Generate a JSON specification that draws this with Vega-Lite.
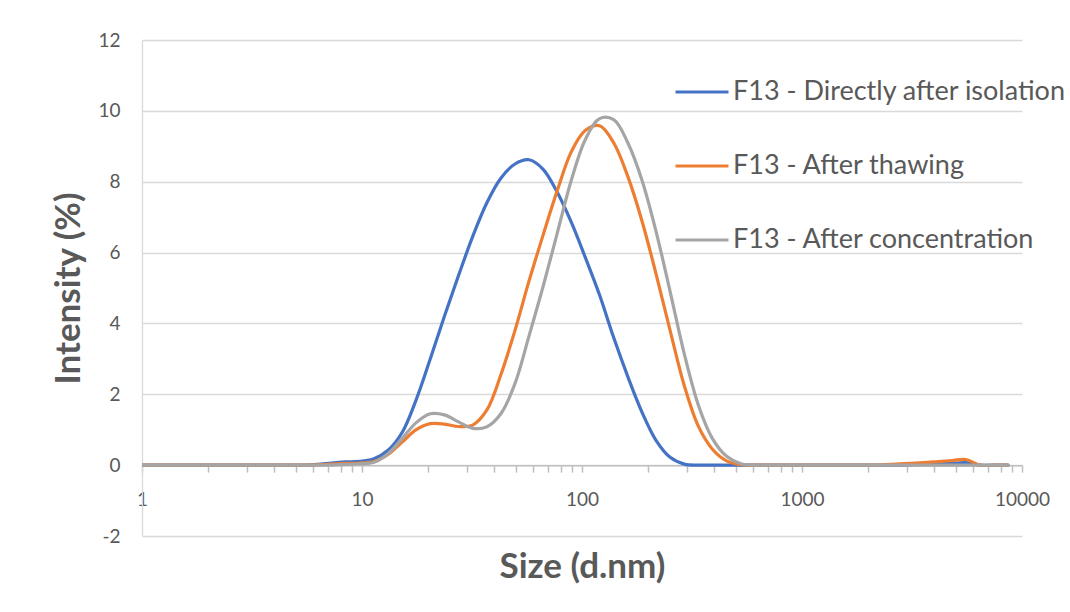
{
  "$schema": "https://vega.github.io/schema/vega-lite/v6.json",
  "width": 880,
  "height": 496,
  "autosize": {"type": "none"},
  "padding": {"left": 142, "top": 40, "right": 48, "bottom": 76},
  "background": "white",
  "config": {"view": {"stroke": null}, "font": "Lato"},
  "datasets": {
    "blue": [
      {"size": 0.9207, "intensity": 0}, {"size": 4.671, "intensity": 0}, {"size": 5.415, "intensity": 0},
      {"size": 6.275, "intensity": 0.02}, {"size": 7.274, "intensity": 0.06}, {"size": 8.433, "intensity": 0.09},
      {"size": 9.772, "intensity": 0.11}, {"size": 11.33, "intensity": 0.18}, {"size": 13.13, "intensity": 0.42},
      {"size": 15.22, "intensity": 0.92}, {"size": 17.64, "intensity": 1.85}, {"size": 20.44, "intensity": 3.0},
      {"size": 23.69, "intensity": 4.2}, {"size": 27.46, "intensity": 5.35}, {"size": 31.84, "intensity": 6.45},
      {"size": 36.9, "intensity": 7.4}, {"size": 42.77, "intensity": 8.1}, {"size": 49.57, "intensity": 8.5},
      {"size": 57.45, "intensity": 8.62}, {"size": 66.6, "intensity": 8.35}, {"size": 77.19, "intensity": 7.7},
      {"size": 89.48, "intensity": 6.85}, {"size": 103.7, "intensity": 5.85}, {"size": 120.2, "intensity": 4.8},
      {"size": 139.3, "intensity": 3.6}, {"size": 161.5, "intensity": 2.5}, {"size": 187.2, "intensity": 1.5},
      {"size": 217, "intensity": 0.7}, {"size": 251.5, "intensity": 0.22}, {"size": 291.5, "intensity": 0.03},
      {"size": 337.8, "intensity": 0}, {"size": 391.7, "intensity": 0}, {"size": 454.2, "intensity": 0},
      {"size": 526.7, "intensity": 0}, {"size": 610, "intensity": 0}, {"size": 706, "intensity": 0},
      {"size": 818.9, "intensity": 0}, {"size": 948.8, "intensity": 0}, {"size": 1100, "intensity": 0},
      {"size": 1275, "intensity": 0}, {"size": 1477, "intensity": 0}, {"size": 1712, "intensity": 0},
      {"size": 1985, "intensity": 0}, {"size": 2300, "intensity": 0}, {"size": 2666, "intensity": 0},
      {"size": 3090, "intensity": 0.01}, {"size": 3580, "intensity": 0.02}, {"size": 4150, "intensity": 0.03},
      {"size": 4801, "intensity": 0.05}, {"size": 5560, "intensity": 0.07}, {"size": 6439, "intensity": 0},
      {"size": 7456, "intensity": 0}, {"size": 8635, "intensity": 0}
    ],
    "orange": [
      {"size": 0.9207, "intensity": 0}, {"size": 4.671, "intensity": 0}, {"size": 5.415, "intensity": 0},
      {"size": 6.275, "intensity": 0.01}, {"size": 7.274, "intensity": 0.03}, {"size": 8.433, "intensity": 0.05},
      {"size": 9.772, "intensity": 0.06}, {"size": 11.33, "intensity": 0.1}, {"size": 13.13, "intensity": 0.3},
      {"size": 15.22, "intensity": 0.65}, {"size": 17.64, "intensity": 1.0}, {"size": 20.44, "intensity": 1.17},
      {"size": 23.69, "intensity": 1.16}, {"size": 27.46, "intensity": 1.09}, {"size": 31.84, "intensity": 1.13},
      {"size": 36.9, "intensity": 1.55}, {"size": 42.77, "intensity": 2.55}, {"size": 49.57, "intensity": 3.8},
      {"size": 57.45, "intensity": 5.2}, {"size": 66.6, "intensity": 6.5}, {"size": 77.19, "intensity": 7.75},
      {"size": 89.48, "intensity": 8.85}, {"size": 103.7, "intensity": 9.45}, {"size": 120.2, "intensity": 9.58},
      {"size": 139.3, "intensity": 9.1}, {"size": 161.5, "intensity": 8.15}, {"size": 187.2, "intensity": 6.9},
      {"size": 217, "intensity": 5.4}, {"size": 251.5, "intensity": 3.8}, {"size": 291.5, "intensity": 2.25},
      {"size": 337.8, "intensity": 1.1}, {"size": 391.7, "intensity": 0.45}, {"size": 454.2, "intensity": 0.12},
      {"size": 526.7, "intensity": 0.01}, {"size": 610, "intensity": 0}, {"size": 706, "intensity": 0},
      {"size": 818.9, "intensity": 0}, {"size": 948.8, "intensity": 0}, {"size": 1100, "intensity": 0},
      {"size": 1275, "intensity": 0}, {"size": 1477, "intensity": 0}, {"size": 1712, "intensity": 0},
      {"size": 1985, "intensity": 0}, {"size": 2300, "intensity": 0.01}, {"size": 2666, "intensity": 0.03},
      {"size": 3090, "intensity": 0.05}, {"size": 3580, "intensity": 0.07}, {"size": 4150, "intensity": 0.1},
      {"size": 4801, "intensity": 0.13}, {"size": 5560, "intensity": 0.16}, {"size": 6439, "intensity": 0},
      {"size": 7456, "intensity": 0}, {"size": 8635, "intensity": 0}
    ],
    "gray": [
      {"size": 0.9207, "intensity": 0}, {"size": 4.671, "intensity": 0}, {"size": 5.415, "intensity": 0},
      {"size": 6.275, "intensity": 0}, {"size": 7.274, "intensity": 0}, {"size": 8.433, "intensity": 0.02},
      {"size": 9.772, "intensity": 0.04}, {"size": 11.33, "intensity": 0.08}, {"size": 13.13, "intensity": 0.32},
      {"size": 15.22, "intensity": 0.75}, {"size": 17.64, "intensity": 1.2}, {"size": 20.44, "intensity": 1.45},
      {"size": 23.69, "intensity": 1.42}, {"size": 27.46, "intensity": 1.22}, {"size": 31.84, "intensity": 1.04},
      {"size": 36.9, "intensity": 1.08}, {"size": 42.77, "intensity": 1.45}, {"size": 49.57, "intensity": 2.3},
      {"size": 57.45, "intensity": 3.65}, {"size": 66.6, "intensity": 5.05}, {"size": 77.19, "intensity": 6.55},
      {"size": 89.48, "intensity": 8.05}, {"size": 103.7, "intensity": 9.2}, {"size": 120.2, "intensity": 9.78},
      {"size": 139.3, "intensity": 9.75}, {"size": 161.5, "intensity": 9.1}, {"size": 187.2, "intensity": 8.05},
      {"size": 217, "intensity": 6.6}, {"size": 251.5, "intensity": 4.9}, {"size": 291.5, "intensity": 3.15},
      {"size": 337.8, "intensity": 1.7}, {"size": 391.7, "intensity": 0.75}, {"size": 454.2, "intensity": 0.25},
      {"size": 526.7, "intensity": 0.04}, {"size": 610, "intensity": 0}, {"size": 706, "intensity": 0},
      {"size": 818.9, "intensity": 0}, {"size": 948.8, "intensity": 0}, {"size": 1100, "intensity": 0},
      {"size": 1275, "intensity": 0}, {"size": 1477, "intensity": 0}, {"size": 1712, "intensity": 0},
      {"size": 1985, "intensity": 0}, {"size": 2300, "intensity": 0}, {"size": 2666, "intensity": 0},
      {"size": 3090, "intensity": 0}, {"size": 3580, "intensity": 0}, {"size": 4150, "intensity": 0},
      {"size": 4801, "intensity": 0}, {"size": 5560, "intensity": 0}, {"size": 6439, "intensity": 0},
      {"size": 7456, "intensity": 0}, {"size": 8635, "intensity": 0}
    ]
  },
  "encoding": {
    "x": {
      "field": "size",
      "type": "quantitative",
      "scale": {"type": "log", "domain": [1, 10000], "nice": false},
      "axis": {
        "title": "Size (d.nm)",
        "values": [1,2,3,4,5,6,7,8,9,10,20,30,40,50,60,70,80,90,100,200,300,400,500,600,700,800,900,1000,2000,3000,4000,5000,6000,7000,8000,9000,10000],
        "format": "d",
        "labelExpr": "datum.value == 1 || datum.value == 10 || datum.value == 100 || datum.value == 1000 || datum.value == 10000 ? datum.label : ''",
        "labelOverlap": false,
        "labelFlush": false,
        "offset": -70.86,
        "grid": false,
        "domainColor": "#BFBFBF",
        "domainWidth": 1.5,
        "tickColor": "#BFBFBF",
        "tickWidth": 1.5,
        "tickSize": 7,
        "labelPadding": 18,
        "labelFontSize": 19,
        "labelColor": "#595959",
        "titleFontSize": 35,
        "titleFontWeight": "bold",
        "titleColor": "#595959",
        "titleBaseline": "middle",
        "titleY": 101
      }
    },
    "y": {
      "field": "intensity",
      "type": "quantitative",
      "scale": {"domain": [-2, 12], "nice": false, "zero": false},
      "axis": {
        "title": "Intensity (%)",
        "values": [-2, 0, 2, 4, 6, 8, 10, 12],
        "labelExpr": "toString(datum.value)",
        "grid": true,
        "gridColor": "#D9D9D9",
        "gridWidth": 1.3,
        "domain": true,
        "domainColor": "#D9D9D9",
        "domainWidth": 1.3,
        "ticks": false,
        "labelPadding": 22,
        "labelFontSize": 19,
        "labelColor": "#595959",
        "labelFlush": false,
        "titleFontSize": 35,
        "titleFontWeight": "bold",
        "titleColor": "#595959",
        "titleBaseline": "middle",
        "titleX": -74
      }
    }
  },
  "layer": [
    {
      "data": {"name": "blue"},
      "mark": {"type": "line", "interpolate": "catmull-rom", "strokeWidth": 3.2, "clip": true, "strokeCap": "round"},
      "encoding": {
        "color": {
          "datum": "F13 - Directly after isolation",
          "type": "nominal",
          "scale": {
            "domain": ["F13 - Directly after isolation", "F13 - After thawing", "F13 - After concentration"],
            "range": ["#4472C4", "#ED7D31", "#A5A5A5"]
          },
          "legend": {
            "title": null,
            "orient": "none",
            "legendX": 532,
            "legendY": 24,
            "symbolType": "stroke",
            "symbolSize": 2809,
            "symbolStrokeWidth": 3,
            "labelFontSize": 27,
            "labelColor": "#595959",
            "labelLimit": 500,
            "labelOffset": 3,
            "rowPadding": 33,
            "padding": 0
          }
        }
      }
    },
    {
      "data": {"name": "orange"},
      "mark": {"type": "line", "interpolate": "catmull-rom", "strokeWidth": 3.2, "clip": true, "strokeCap": "round"},
      "encoding": {"color": {"datum": "F13 - After thawing", "type": "nominal"}}
    },
    {
      "data": {"name": "gray"},
      "mark": {"type": "line", "interpolate": "catmull-rom", "strokeWidth": 3.2, "clip": true, "strokeCap": "round"},
      "encoding": {"color": {"datum": "F13 - After concentration", "type": "nominal"}}
    }
  ]
}
